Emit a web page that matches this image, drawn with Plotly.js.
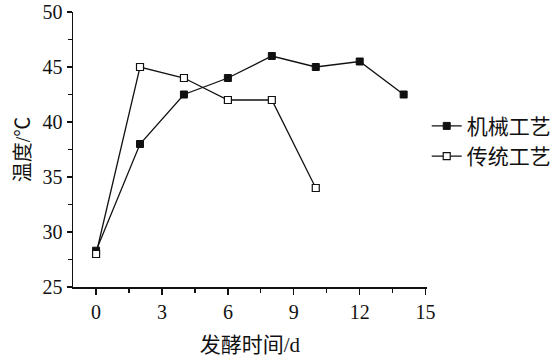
<!DOCTYPE html>
<html>
<head>
<meta charset="utf-8">
<script src="https://cdn.plot.ly/plotly-3.0.1.min.js"></script>
<style>html,body{margin:0;padding:0;background:#fff;}#chart{width:560px;height:360px;}</style>
</head>
<body>
<div id="chart"></div>
<script>
const daysMech = [0, 2, 4, 6, 8, 10, 12, 14];
const tempMech = [28.3, 38, 42.5, 44, 46, 45, 45.5, 42.5];
const daysTrad = [0, 2, 4, 6, 8, 10];
const tempTrad = [28, 45, 44, 42, 42, 34];
const seriesNames = ['机械工艺', '传统工艺'];
const xTitle = '发酵时间/d';
const yTitle = '温度/℃';

const fontFam = 'Liberation Serif';
const cjkFam = 'Liberation Serif, Noto Sans CJK SC';

const traces = [
  {
    x: daysMech, y: tempMech, name: seriesNames[0], type: 'scatter', mode: 'lines+markers',
    line: {color: '#111', width: 1.3},
    marker: {symbol: 'square', size: 7, color: '#111', line: {color: '#111', width: 1}}
  },
  {
    x: daysTrad, y: tempTrad, name: seriesNames[1], type: 'scatter', mode: 'lines+markers',
    line: {color: '#111', width: 1.3},
    marker: {symbol: 'square', size: 7, color: '#fff', line: {color: '#111', width: 1.2}}
  }
];

const layout = {
  width: 560, height: 360,
  margin: {l: 73, r: 132, t: 12, b: 73},
  paper_bgcolor: '#fff', plot_bgcolor: '#fff',
  font: {family: cjkFam, size: 20, color: '#111'},
  showlegend: true,
  legend: {
    xref: 'container', x: 0.762, xanchor: 'left', y: 0.53, yanchor: 'middle',
    bgcolor: 'rgba(0,0,0,0)', itemwidth: 30,
    font: {family: cjkFam, size: 21, color: '#111'},
    tracegroupgap: 0
  },
  xaxis: {
    range: [-1.05, 15.05], tick0: 0, dtick: 3, tickmode: 'linear',
    showline: true, linecolor: '#111', linewidth: 1.5,
    ticks: 'outside', ticklen: 6, tickwidth: 1.3, tickcolor: '#111',
    minor: {dtick: 1.5, tick0: 0, ticks: 'outside', ticklen: 4, tickwidth: 1.2, tickcolor: '#111', showgrid: false},
    showgrid: false, zeroline: false,
    tickfont: {family: fontFam, size: 20},
    title: {text: xTitle, font: {family: cjkFam, size: 21}, standoff: 16}
  },
  yaxis: {
    range: [25, 50], tick0: 25, dtick: 5, tickmode: 'linear',
    showline: true, linecolor: '#111', linewidth: 1.5,
    ticks: 'outside', ticklen: 5, tickwidth: 1.3, tickcolor: '#111',
    minor: {dtick: 2.5, tick0: 25, ticks: 'outside', ticklen: 4, tickwidth: 1.2, tickcolor: '#111', showgrid: false},
    showgrid: false, zeroline: false,
    tickfont: {family: fontFam, size: 20},
    title: {text: yTitle, font: {family: cjkFam, size: 20}, standoff: 6}
  }
};

Plotly.newPlot('chart', traces, layout, {displayModeBar: false, staticPlot: true});
</script>
</body>
</html>
